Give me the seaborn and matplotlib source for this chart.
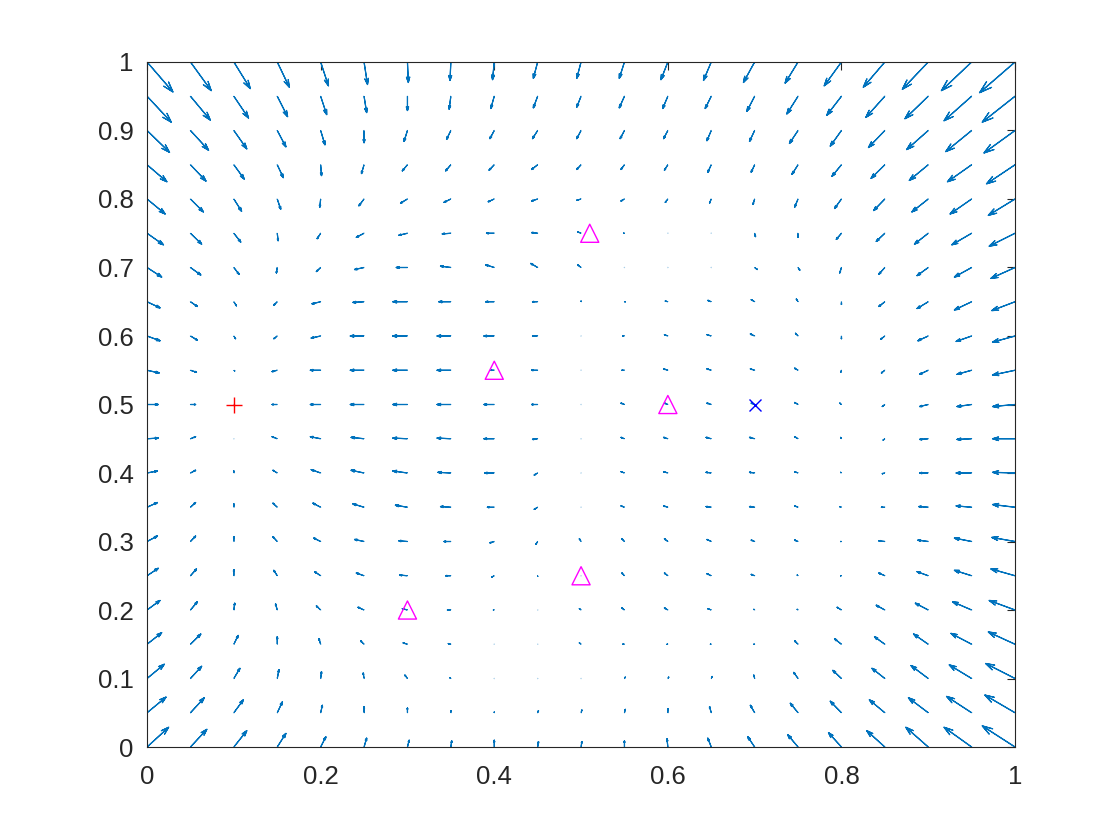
import numpy as np
import matplotlib
matplotlib.use("Agg")
import matplotlib.pyplot as plt
import seaborn as sns

# grid of the vector field (21 x 21), rows listed from y = 1.0 down to y = 0.0
x_grid = [round(0.05 * i, 2) for i in range(21)]
y_rows = [round(1.0 - 0.05 * i, 2) for i in range(21)]

# arrow components, in thousandths of a data unit
U_milli = [
    [30, 24, 19, 14, 9, 4, 1, -1, -2, -5, -5, -6, -8, -9, -13, -15, -20, -25, -30, -35, -41],
    [28, 23, 17, 12, 7, 3, 0, -2, -4, -5, -5, -6, -6, -7, -9, -13, -17, -22, -27, -32, -38],
    [26, 21, 15, 10, 5, 0, -4, -5, -5, -6, -5, -5, -5, -5, -6, -10, -13, -19, -25, -30, -36],
    [23, 18, 12, 7, 1, -3, -6, -6, -6, -7, -5, -4, -4, -4, -4, -7, -11, -16, -22, -28, -33],
    [21, 15, 9, 4, -1, -6, -8, -8, -7, -7, -5, -4, -3, -2, -2, -4, -8, -13, -19, -25, -31],
    [19, 13, 8, 1, -4, -9, -10, -10, -9, -7, -4, -1, 0, 0, 1, 0, -6, -10, -16, -23, -30],
    [17, 12, 6, -1, -5, -11, -13, -12, -10, -8, -4, 0, 0, 0, 3, 2, -2, -7, -13, -20, -28],
    [15, 8, 3, -4, -10, -13, -17, -14, -10, -6, 0, 1, -3, -4, -4, -2, 0, -7, -13, -20, -27],
    [15, 8, 2, -4, -11, -16, -17, -16, -12, -6, 0, -2, -4, -5, -5, -3, 0, -5, -12, -18, -26],
    [14, 7, 1, -6, -12, -16, -17, -16, -4, -7, 0, -3, -5, -5, -5, -4, -1, -4, -10, -17, -26],
    [13, 6, 0, -6, -12, -16, -17, -16, -12, -7, 0, -4, -4, -5, -4, -4, -2, -3, -10, -17, -26],
    [13, 6, 0, -6, -12, -15, -17, -16, -12, -6, 0, -4, -5, -6, -6, -4, -1, -2, -10, -17, -26],
    [12, 6, 0, -5, -11, -15, -17, -15, -11, -4, 0, -4, -5, -6, -6, -4, -1, -3, -10, -18, -26],
    [12, 6, 0, -5, -9, -13, -14, -12, -8, -4, 0, -4, -5, -6, -6, -4, -2, -4, -11, -18, -26],
    [12, 6, 0, -5, -8, -11, -10, -8, -5, -2, -2, -3, -4, -5, -4, -4, -1, -7, -12, -20, -27],
    [13, 7, 0, -4, -7, -9, -9, -6, -3, 0, 0, -3, -4, -5, -4, -1, -1, -7, -13, -20, -28],
    [15, 8, 1, -2, -5, -7, -6, -4, -1, 0, -2, -3, -4, -4, -1, -1, -5, -10, -15, -22, -30],
    [17, 12, 5, 0, -2, -4, -5, -3, 0, 0, -2, -2, -1, -1, -1, -4, -8, -12, -17, -24, -31],
    [20, 13, 7, 2, 1, -1, -3, -1, 0, 0, 0, 1, 1, 1, -1, -5, -10, -15, -20, -26, -34],
    [22, 16, 11, 6, 2, 0, 0, 0, 0, 1, 1, 1, 0, -2, -5, -9, -13, -18, -23, -29, -35],
    [25, 19, 15, 10, 6, 3, 2, 1, 0, 1, 1, 0, -1, -4, -8, -12, -15, -21, -26, -32, -38],
]
V_milli = [
    [-44, -42, -39, -37, -35, -33, -30, -27, -26, -24, -24, -24, -26, -27, -30, -31, -35, -37, -40, -42, -45],
    [-38, -35, -32, -30, -27, -24, -21, -19, -18, -17, -16, -17, -18, -18, -22, -26, -28, -31, -33, -36, -38],
    [-32, -29, -27, -24, -21, -18, -16, -13, -12, -12, -12, -12, -12, -15, -16, -19, -23, -25, -28, -31, -33],
    [-25, -24, -21, -19, -16, -13, -9, -9, -8, -7, -7, -7, -8, -11, -11, -14, -17, -20, -23, -25, -28],
    [-22, -19, -18, -15, -12, -10, -6, -5, -4, -3, -2, -3, -5, -6, -8, -12, -14, -17, -19, -22, -24],
    [-17, -16, -13, -11, -8, -6, -3, -1, 0, 1, 2, 0, 0, 0, -5, -6, -9, -12, -16, -17, -19],
    [-14, -11, -10, -8, -6, -3, 0, 2, 4, 6, 4, 0, 0, 0, -3, -4, -8, -10, -12, -14, -16],
    [-9, -7, -6, -5, -3, -1, 0, 0, 0, 0, 1, 0, 1, 2, 3, 4, -4, -7, -10, -12, -13],
    [-7, -6, -4, -4, -3, 0, 0, 0, 0, 0, 0, 0, 2, 2, 3, 4, -4, -5, -7, -8, -9],
    [-4, -3, -1, -2, 0, 0, 0, 0, 0, 0, 0, 0, 2, 2, 2, 3, -3, -4, -6, -6, -7],
    [0, 0, 0, 0, 0, 0, 0, 0, 0, 0, 0, 2, 2, 2, 2, 3, 2, -3, -3, -3, -3],
    [1, 3, 0, 3, 3, 2, 1, 1, 0, -1, 0, 2, 2, 2, 2, 3, 2, -2, -1, -1, 0],
    [3, 4, 3, 4, 5, 4, 3, 1, 0, -3, 0, 2, 2, 1, 1, 2, 1, -1, 0, 0, 1],
    [7, 7, 5, 6, 6, 5, 3, 1, 0, -3, 0, 2, 2, 1, 1, 2, 1, 0, 1, 2, 4],
    [8, 8, 7, 7, 5, 3, 1, 0, -2, -4, 4, 4, 4, 3, 2, 2, 0, 1, 2, 5, 6],
    [11, 10, 9, 8, 6, 4, 1, 0, -2, -1, 0, 4, 4, 3, 2, 1, 0, 4, 6, 8, 10],
    [14, 12, 10, 9, 6, 4, 2, 0, 0, 0, 2, 3, 3, 2, 1, 1, 4, 7, 10, 12, 14],
    [17, 15, 13, 11, 8, 5, 2, 1, 0, 0, 2, 0, 0, 0, 0, 5, 8, 11, 15, 16, 18],
    [21, 18, 15, 13, 10, 8, 5, 1, 0, 0, 0, 2, 2, 3, 5, 9, 12, 15, 19, 20, 22],
    [23, 22, 19, 16, 11, 9, 7, 3, 1, 3, 4, 5, 6, 9, 11, 14, 17, 19, 22, 24, 26],
    [29, 26, 24, 20, 15, 13, 10, 9, 10, 8, 8, 9, 12, 13, 15, 18, 21, 24, 29, 29, 31],
]

start_x, start_y = [0.1], [0.5]
goal_x, goal_y = [0.7], [0.5]
obst_x = [0.3, 0.4, 0.5, 0.51, 0.6]
obst_y = [0.2, 0.55, 0.25, 0.75, 0.5]

x_ticks = [0, 0.2, 0.4, 0.6, 0.8, 1]
x_labels = ["0", "0.2", "0.4", "0.6", "0.8", "1"]
y_ticks = [0, 0.1, 0.2, 0.3, 0.4, 0.5, 0.6, 0.7, 0.8, 0.9, 1]
y_labels = ["0", "0.1", "0.2", "0.3", "0.4", "0.5", "0.6", "0.7", "0.8", "0.9", "1"]

sns.set_theme(style="white")
plt.rcParams["font.family"] = ["Liberation Sans", "DejaVu Sans"]

fig = plt.figure(figsize=(11.2, 8.4), dpi=100)
ax = fig.add_axes([0.1313, 0.1107, 0.775, 0.8155])

X, Y = np.meshgrid(np.array(x_grid), np.array(y_rows))
U = np.array(U_milli) / 1000.0
V = np.array(V_milli) / 1000.0

# open, line-style arrowheads (MATLAB quiver look)
ax.quiver(X, Y, U, V, angles="xy", scale_units="xy", scale=1,
          width=0.0003, headlength=50, headwidth=30, headaxislength=3,
          minshaft=3.7, minlength=0.5,
          facecolor="none", edgecolor="#0072BD", linewidth=0.85)

ax.plot(start_x, start_y, linestyle="none", marker="+", ms=11.5, mew=1.0, color="red")
ax.plot(goal_x, goal_y, linestyle="none", marker="x", ms=8.5, mew=1.0, color="blue")
sns.scatterplot(x=obst_x, y=obst_y, marker="^", s=170, color="none",
                edgecolor="magenta", linewidth=1.0, ax=ax, zorder=3)

ax.set_xlim(0, 1)
ax.set_ylim(0, 1)
ax.set_xticks(x_ticks)
ax.set_xticklabels(x_labels)
ax.set_yticks(y_ticks)
ax.set_yticklabels(y_labels)
ax.tick_params(direction="in", length=6, width=0.8, colors="#262626",
               labelsize=18.5, top=True, right=True)
ax.tick_params(axis="x", pad=13)
ax.tick_params(axis="y", pad=9.5)
for s in ax.spines.values():
    s.set_visible(True)
    s.set_color("#262626")
    s.set_linewidth(0.8)
ax.grid(False)
ax.set_facecolor("white")
fig.patch.set_facecolor("white")

fig.savefig("out.png", dpi=100)
